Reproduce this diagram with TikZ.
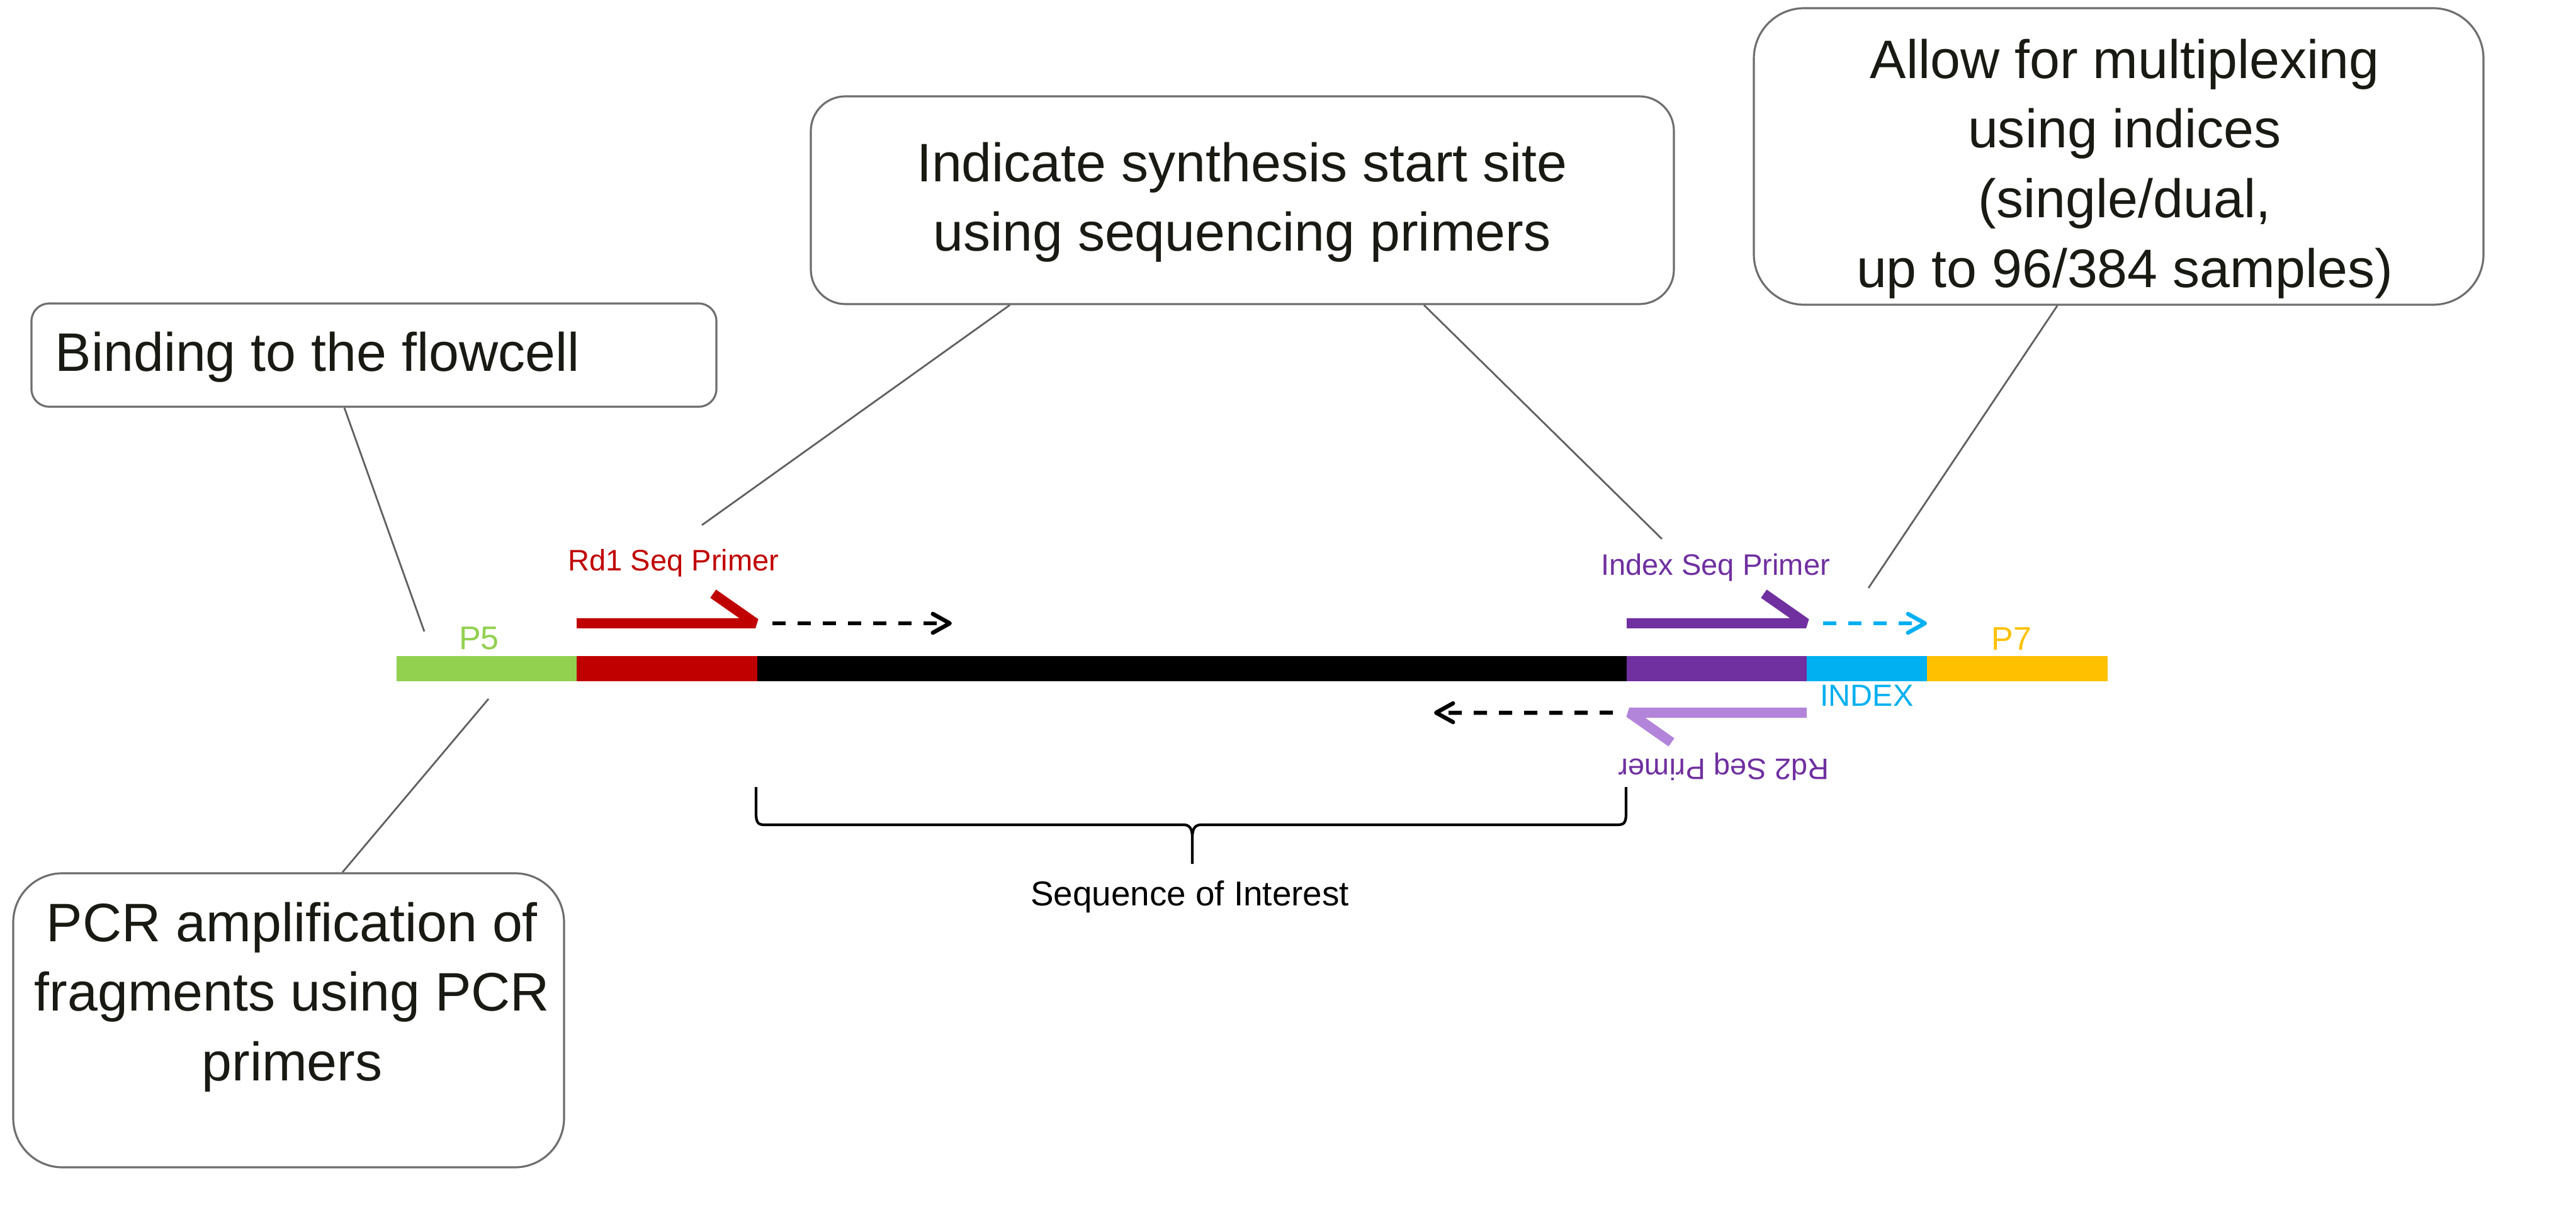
\documentclass[tikz,border=0pt]{standalone}
\usepackage{fontspec}
\setmainfont{Liberation Sans}
\usetikzlibrary{arrows.meta,calc,positioning}
\definecolor{pfivegreen}{HTML}{92D050}
\definecolor{rdonered}{HTML}{C00000}
\definecolor{rdtwopurple}{HTML}{7030A0}
\definecolor{rdtwolilac}{HTML}{B385DA}
\definecolor{indexcyan}{HTML}{00B0F0}
\definecolor{psevenyellow}{HTML}{FFC000}
\definecolor{boxgray}{HTML}{6E6E6E}
\definecolor{linkgray}{HTML}{606060}
\definecolor{textblack}{HTML}{1A1A14}

\begin{document}
\begin{tikzpicture}[
  node distance=0pt,
  callout/.style={rectangle,draw=boxgray,line width=0.9pt,inner sep=0pt},
  calltext/.style={inner sep=0pt,align=center,text=textblack,font=\fontsize{24.5}{31.5}\selectfont},
  seg/.style={rectangle,inner sep=0pt,outer sep=0pt,minimum height=0.40cm},
  tag/.style={inner sep=0pt,font=\fontsize{13.4}{16}\selectfont},
  link/.style={draw=linkgray,line width=0.8pt},
  primer/.style={line width=0.16cm,line join=bevel},
  extend/.style={line width=0.065cm,dash pattern=on 0.21cm off 0.19cm,-{Straight Barb[length=0.27cm,width=0.30cm,round]}},
  curly/.style={line width=1.2pt},
]
% canvas
\fill[white] (0,0) rectangle (40.92,-19.52);
\useasboundingbox (0,0) rectangle (40.92,-19.52);

% library fragment
\node[seg,fill=pfivegreen,minimum width=2.86cm,anchor=west] (p5seg) at (6.30,-10.62) {};
\node[seg,fill=rdonered,minimum width=2.87cm,right=of p5seg] (rd1seg) {};
\node[seg,fill=black,minimum width=13.81cm,right=of rd1seg] (insertseg) {};
\node[seg,fill=rdtwopurple,minimum width=2.86cm,right=of insertseg] (rd2seg) {};
\node[seg,fill=indexcyan,minimum width=1.91cm,right=of rd2seg] (idxseg) {};
\node[seg,fill=psevenyellow,minimum width=2.87cm,right=of idxseg] (p7seg) {};

\node[tag,font=\fontsize{14.8}{18}\selectfont,text=pfivegreen,above=0.09cm of p5seg,xshift=-0.12cm] (p5lbl) {P5};
\node[tag,font=\fontsize{14.8}{18}\selectfont,text=psevenyellow,above=0.09cm of p7seg,xshift=-0.09cm] (p7lbl) {P7};
\node[tag,font=\fontsize{13.8}{16}\selectfont,text=indexcyan,below=0.05cm of idxseg] (indexlbl) {INDEX};

% primers
\node[tag,text=rdonered,anchor=base] (rd1lbl) at (10.70,-9.07) {Rd1 Seq Primer};
\node[tag,text=rdtwopurple,anchor=base] (idxlbl) at (27.25,-9.13) {Index Seq Primer};
\node[tag,text=rdtwopurple,anchor=base,rotate=180] (rd2lbl) at (27.38,-12.05) {Rd2 Seq Primer};

\draw[primer,rdonered] ([yshift=0.72cm]rd1seg.west) -- ([xshift=-0.03cm,yshift=0.72cm]rd1seg.east) -- ++(145:0.82);
\draw[primer,rdtwopurple] ([yshift=0.72cm]rd2seg.west) -- ([xshift=-0.01cm,yshift=0.72cm]rd2seg.east) -- ++(145:0.82);
\draw[primer,rdtwolilac] ([yshift=-0.70cm]rd2seg.east) -- ([xshift=0.04cm,yshift=-0.70cm]rd2seg.west) -- ++(-35:0.82);

\coordinate (rd1stop) at (15.12,-9.90);
\coordinate (rd2stop) at (22.78,-11.32);
\draw[extend] ([xshift=0.24cm,yshift=0.72cm]rd1seg.east) -- (rd1stop);
\draw[extend,indexcyan] ([xshift=0.26cm,yshift=0.72cm]rd2seg.east) -- ([yshift=0.72cm]idxseg.east);
\draw[extend] ([xshift=-0.22cm,yshift=-0.70cm]rd2seg.west) -- (rd2stop);

% sequence of interest
\draw[curly] (12.01,-12.50) -- (12.01,-12.92) .. controls (12.01,-13.06) and (12.04,-13.10) .. (12.14,-13.10)
  -- (18.80,-13.10) .. controls (18.88,-13.10) and (18.94,-13.14) .. (18.94,-13.30) -- (18.94,-13.72)
  -- (18.94,-13.30) .. controls (18.94,-13.14) and (19.00,-13.10) .. (19.08,-13.10)
  -- (25.70,-13.10) .. controls (25.80,-13.10) and (25.83,-13.06) .. (25.83,-12.92) -- (25.83,-12.50);
\node[tag,font=\fontsize{15.6}{19}\selectfont,anchor=base] (soilbl) at (18.90,-14.38) {Sequence of Interest};

% callouts
\node[callout,rounded corners=0.28cm,minimum width=10.88cm,minimum height=1.64cm] (flowcell) at (5.94,-5.64) {};
\node[callout,rounded corners=0.55cm,minimum width=13.71cm,minimum height=3.30cm] (synthesis) at (19.735,-3.18) {};
\node[callout,rounded corners=0.80cm,minimum width=11.59cm,minimum height=4.71cm] (multiplex) at (33.655,-2.485) {};
\node[callout,rounded corners=0.78cm,minimum width=8.75cm,minimum height=4.67cm] (pcr) at (4.585,-16.205) {};

\node[calltext,anchor=north west,align=left] (flowcelltxt) at (0.87,-5.26) {Binding to the flowcell};
\node[calltext,anchor=north] (synthesistxt) at (19.73,-2.25) {Indicate synthesis start site\\using sequencing primers};
\node[calltext,anchor=north] (multiplextxt) at (33.75,-0.61) {Allow for multiplexing\\using indices\\(single/dual,\\up to 96/384 samples)};
\node[calltext,anchor=north] (pcrtxt) at (4.64,-14.32) {PCR amplification of\\fragments using PCR\\primers};

\coordinate (p5top) at (6.74,-10.03);
\coordinate (p5bottom) at (7.76,-11.10);
\coordinate (rd1top) at (11.15,-8.34);
\coordinate (idxtop) at (26.40,-8.56);
\coordinate (multitop) at (29.68,-9.34);
\draw[link] ([xshift=-0.47cm]flowcell.south) -- (p5top);
\draw[link] ([xshift=0.855cm]pcr.north) -- (p5bottom);
\draw[link] ([xshift=-3.695cm]synthesis.south) -- (rd1top);
\draw[link] ([xshift=2.885cm]synthesis.south) -- (idxtop);
\draw[link] ([xshift=-0.975cm]multiplex.south) -- (multitop);
\end{tikzpicture}
\end{document}
